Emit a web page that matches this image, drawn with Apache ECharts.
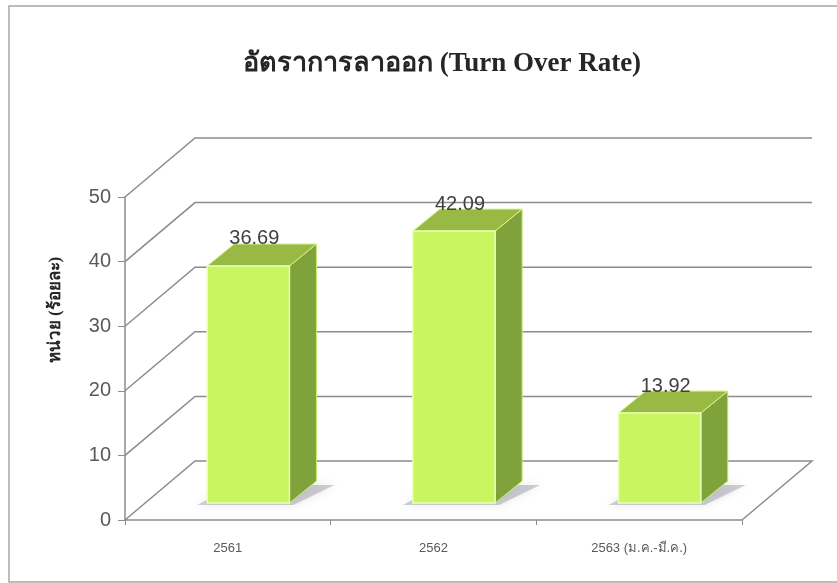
<!DOCTYPE html>
<html>
<head>
<meta charset="utf-8">
<script src="https://cdn.jsdelivr.net/npm/echarts@6/dist/echarts.min.js"></script>
<style>
html,body{margin:0;padding:0;background:#fff;}
#chart{width:837px;height:583px;}
</style>
</head>
<body>
<div id="chart"></div>
<script>
// ---- data ----
const categories = ['2561', '2562', '2563 (ม.ค.-มี.ค.)'];
const rates = [36.69, 42.09, 13.92];
const yTicks = [0, 10, 20, 30, 40, 50];
const titleText = 'อัตราการลาออก (Turn Over Rate)';
const yName = 'หน่วย (ร้อยละ)';

// ---- 3D look (pixels) ----
const WALL_DX = 70, WALL_DY = -59;     // depth of the floor / back wall
const BAR_OX = 20.5, BAR_OY = -17;     // bar front face offset into depth
const BAR_DX = 27, BAR_DY = -22;       // bar depth
const BAR_RATIO = 0.40;
const GRID_COLOR = '#8c8c8c';

const chart = echarts.init(document.getElementById('chart'), null, {renderer: 'canvas'});

function wallItem(params, api) {
  const v = api.value(0);
  const c = api.coord([0, v]);
  const band = api.size([1, 0])[0];
  const lx = c[0] - band / 2;
  const rx = lx + band * categories.length;
  const y = c[1];
  const pts = [[lx, y], [lx + WALL_DX, y + WALL_DY], [rx + WALL_DX, y + WALL_DY]];
  if (v === 0) pts.push([rx, y]);
  return {
    type: 'polyline',
    shape: {points: pts},
    style: {stroke: GRID_COLOR, lineWidth: 1.5, fill: null}
  };
}

function barItem(params, api) {
  const i = api.value(0);
  const v = api.value(1);
  const c0 = api.coord([i, 0]);
  const c1 = api.coord([i, v]);
  const band = api.size([1, 0])[0];
  const w = band * BAR_RATIO;
  const x0 = c0[0] - w / 2 + BAR_OX;
  const x1 = x0 + w;
  const yb = c0[1] + BAR_OY;
  const yt = c1[1] + BAR_OY;
  return {
    type: 'group',
    children: [
      { // shadow
        type: 'polygon',
        shape: {points: [[x0 - 10, yb + 2], [x1 + 4, yb + 2], [x1 + BAR_DX + 18, yb + BAR_DY + 4], [x0 + BAR_DX, yb + BAR_DY + 4]]},
        style: {fill: 'rgba(120,120,135,0.35)', shadowBlur: 8, shadowColor: 'rgba(120,120,135,0.5)'}
      },
      { // side
        type: 'polygon',
        shape: {points: [[x1, yt], [x1 + BAR_DX, yt + BAR_DY], [x1 + BAR_DX, yb + BAR_DY], [x1, yb]]},
        style: {fill: '#7fa23a', stroke: '#c8ea7a', lineWidth: 1}
      },
      { // top
        type: 'polygon',
        shape: {points: [[x0, yt], [x0 + BAR_DX, yt + BAR_DY], [x1 + BAR_DX, yt + BAR_DY], [x1, yt]]},
        style: {fill: '#98ba45', stroke: '#d6f58a', lineWidth: 1}
      },
      { // front
        type: 'rect',
        shape: {x: x0, y: yt, width: w, height: yb - yt},
        style: {fill: '#c9f660', stroke: '#e9ffb8', lineWidth: 1.5}
      },
      { // label
        type: 'text',
        style: {
          text: v.toFixed(2),
          x: (x0 + x1) / 2 + 6,
          y: yt + BAR_DY - 5,
          align: 'center',
          verticalAlign: 'middle',
          fill: '#404040',
          font: '20px "Liberation Sans", Arial, sans-serif'
        }
      }
    ]
  };
}

const option = {
  backgroundColor: '#ffffff',
  animation: false,
  graphic: [
    {
      type: 'rect', silent: true, z: -10,
      shape: {x: 9, y: 6, width: 840, height: 576},
      style: {fill: '#fff', stroke: '#a6a6a6', lineWidth: 1.5}
    },
    {
      type: 'text', z: 10,
      style: {
        text: titleText, x: 442, y: 64, align: 'center', verticalAlign: 'middle',
        fill: '#262626', font: 'bold 27px "Liberation Serif", "Noto Serif", serif'
      }
    },
    {
      type: 'text', z: 10,
      x: 56, y: 310, rotation: Math.PI / 2,
      style: {
        text: yName, x: 0, y: 0, align: 'center', verticalAlign: 'middle',
        fill: '#262626', font: 'bold 17px "Liberation Serif", serif'
      }
    }
  ],
  grid: {left: 125, right: 95, top: 197, bottom: 63},
  xAxis: {
    type: 'category',
    data: categories,
    axisLine: {lineStyle: {color: GRID_COLOR, width: 1.5}},
    axisTick: {show: true, length: 5, lineStyle: {color: GRID_COLOR}},
    axisLabel: {color: '#595959', fontSize: 13, margin: 22, fontFamily: '"Liberation Sans", Arial, sans-serif'},
    splitLine: {show: false}
  },
  yAxis: {
    type: 'value',
    min: 0, max: 50, interval: 10,
    axisLine: {show: true, lineStyle: {color: GRID_COLOR, width: 1.5}},
    axisTick: {show: true, length: 7, lineStyle: {color: GRID_COLOR}},
    axisLabel: {color: '#595959', fontSize: 20, margin: 14, fontFamily: '"Liberation Sans", Arial, sans-serif'},
    splitLine: {show: false}
  },
  series: [
    {
      type: 'custom',
      renderItem: wallItem,
      data: yTicks.map(v => [v]),
      encode: {y: 0},
      z: 1,
      silent: true
    },
    {
      type: 'custom',
      renderItem: barItem,
      data: rates.map((v, i) => [i, v]),
      encode: {x: 0, y: 1},
      z: 5
    }
  ]
};
chart.setOption(option);
</script>
</body>
</html>
